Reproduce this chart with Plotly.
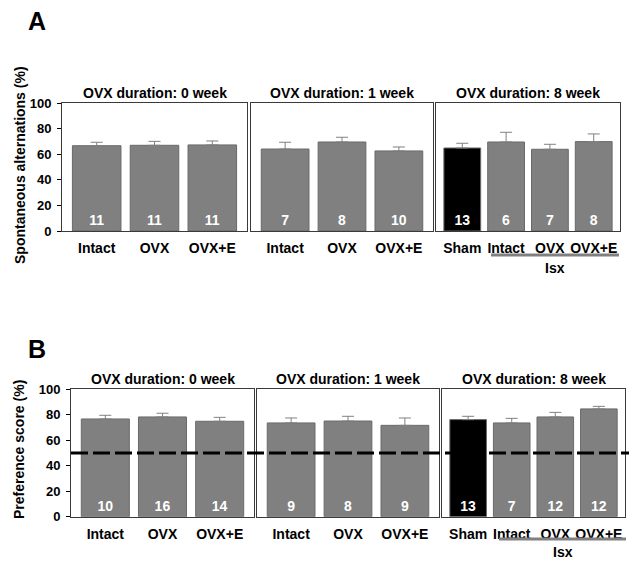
"""
Spontaneous alternation and preference score by OVX duration (panels A and B).
"""

import plotly.graph_objects as go

W, H = 637, 561
PAGE_OFFSET = 8  # the page body margin shifts the figure by this many px

# Data
durations = ["OVX duration: 0 week", "OVX duration: 1 week", "OVX duration: 8 week"]
groups_short = ["Intact", "OVX", "OVX+E"]
groups_8wk = ["Sham", "Intact", "OVX", "OVX+E"]

# Panel A - spontaneous alternations (%)
alt_mean_0wk = [66.8, 67.1, 67.4]
alt_err_0wk = [2.7, 3.1, 3.1]
alt_n_0wk = [11, 11, 11]
alt_mean_1wk = [64.2, 69.7, 62.7]
alt_err_1wk = [5.3, 3.7, 3.1]
alt_n_1wk = [7, 8, 10]
alt_mean_8wk = [65.0, 69.7, 64.0, 70.0]
alt_err_8wk = [3.7, 7.6, 3.9, 6.0]
alt_n_8wk = [13, 6, 7, 8]

# Panel B - preference score (%)
pref_mean_0wk = [76.7, 78.3, 74.9]
pref_err_0wk = [2.9, 2.9, 3.1]
pref_n_0wk = [10, 16, 14]
pref_mean_1wk = [73.6, 75.1, 71.7]
pref_err_1wk = [3.9, 3.7, 5.8]
pref_n_1wk = [9, 8, 9]
pref_mean_8wk = [76.2, 73.6, 78.3, 84.6]
pref_err_8wk = [2.6, 3.6, 3.6, 2.0]
pref_n_8wk = [13, 7, 12, 12]

chance_level = 50
y_ticks = [0, 20, 40, 60, 80, 100]

FONT = "Arial, Liberation Sans, sans-serif"
GRAY = "#808080"


def px_x(p):
    return (p - PAGE_OFFSET) / W


def px_y(p):
    return 1 - (p - PAGE_OFFSET) / H


# Pixel boxes of each subplot: (left, right)
boxes_a = [(62, 247), (251, 433), (436, 620)]
boxes_b = [(71, 254), (257, 439), (442, 625)]
ytop_a, ybot_a = 103.3, 231
ytop_b, ybot_b = 389.3, 516.7

panels = [
    (groups_short, alt_mean_0wk, alt_err_0wk, alt_n_0wk),
    (groups_short, alt_mean_1wk, alt_err_1wk, alt_n_1wk),
    (groups_8wk, alt_mean_8wk, alt_err_8wk, alt_n_8wk),
    (groups_short, pref_mean_0wk, pref_err_0wk, pref_n_0wk),
    (groups_short, pref_mean_1wk, pref_err_1wk, pref_n_1wk),
    (groups_8wk, pref_mean_8wk, pref_err_8wk, pref_n_8wk),
]

fig = go.Figure()
layout = {}

for i, (cats, means, errs, ns) in enumerate(panels):
    k = i + 1
    sfx = "" if k == 1 else str(k)
    colors = ["black" if c == "Sham" else GRAY for c in cats]
    fig.add_trace(go.Bar(
        x=cats, y=means,
        xaxis="x" + sfx, yaxis="y" + sfx,
        width=0.84,
        marker=dict(color=colors, line=dict(color="#6a6a6a", width=1)),
        error_y=dict(type="data", symmetric=False, array=errs,
                     arrayminus=[0] * len(errs),
                     color=GRAY, thickness=1, width=6),
        text=[str(n) for n in ns],
        textposition="inside", insidetextanchor="start", textangle=0,
        textfont=dict(color="white", size=14, family=FONT, weight="bold"),
        showlegend=False,
        hoverinfo="x+y",
    ))

    row_a = i < 3
    left, right = (boxes_a if row_a else boxes_b)[i % 3]
    top, bot = (ytop_a, ybot_a) if row_a else (ytop_b, ybot_b)
    first = i % 3 == 0
    n_cat = len(cats)

    layout["xaxis" + sfx] = dict(
        domain=[px_x(left), px_x(right)],
        anchor="y" + sfx,
        type="category",
        range=[-0.6, n_cat - 1 + 0.6],
        automargin=False,
        showline=True, mirror=True, linecolor="#3a3a3a", linewidth=1,
        ticks="", showgrid=False, zeroline=False,
        ticklabelstandoff=4,
        tickfont=dict(family=FONT, size=14, color="black", weight="bold"),
    )
    layout["yaxis" + sfx] = dict(
        domain=[px_y(bot), px_y(top)],
        anchor="x" + sfx,
        range=[0, 100],
        automargin=False,
        tickvals=y_ticks,
        showticklabels=first,
        ticks="outside" if first else "",
        ticklen=4, tickcolor="black",
        ticklabelstandoff=3,
        showline=True, mirror=True, linecolor="#3a3a3a", linewidth=1,
        showgrid=False, zeroline=False,
        tickfont=dict(family=FONT, size=13, color="black", weight="bold"),
    )

annotations = []
title_font = dict(family=FONT, size=14, color="black", weight="bold")

# Subplot titles
for boxes, ypos in [(boxes_a, 93), (boxes_b, 379)]:
    for (left, right), label in zip(boxes, durations):
        annotations.append(dict(
            text=label, x=px_x((left + right) / 2), y=px_y(ypos),
            xref="paper", yref="paper", showarrow=False, font=title_font,
            xanchor="center", yanchor="middle",
        ))

# Panel letters
for letter, ypos in [("A", 21), ("B", 349)]:
    annotations.append(dict(
        text=letter, x=px_x(37), y=px_y(ypos), xref="paper", yref="paper",
        showarrow=False, xanchor="center", yanchor="middle",
        font=dict(family=FONT, size=25, color="black", weight="bold"),
    ))

# Y-axis titles
for label, xpos, ypos in [("Spontaneous alternations (%)", 20, 165),
                          ("Preference score (%)", 19, 450)]:
    annotations.append(dict(
        text=label, x=px_x(xpos), y=px_y(ypos), xref="paper", yref="paper",
        showarrow=False, textangle=-90, xanchor="center", yanchor="middle",
        font=title_font,
    ))

# Isx bracket labels
shapes = []
for x0, x1, yline, ylabel in [(491, 619, 255, 268), (499, 626, 539, 552)]:
    shapes.append(dict(
        type="line", xref="paper", yref="paper",
        x0=px_x(x0), x1=px_x(x1), y0=px_y(yline), y1=px_y(yline),
        line=dict(color=GRAY, width=3),
    ))
    annotations.append(dict(
        text="Isx", x=px_x((x0 + x1) / 2), y=px_y(ylabel),
        xref="paper", yref="paper", showarrow=False,
        xanchor="center", yanchor="middle", font=title_font,
    ))

# Chance level in panel B
shapes.append(dict(
    type="line", xref="paper", yref="y4",
    x0=px_x(71), x1=px_x(630), y0=chance_level, y1=chance_level,
    line=dict(color="black", width=3, dash="17px,5px"),
    layer="above",
))

fig.update_layout(
    width=W, height=H,
    margin=dict(l=0, r=0, t=0, b=0, autoexpand=False),
    paper_bgcolor="white", plot_bgcolor="white",
    showlegend=False,
    annotations=annotations,
    shapes=shapes,
    **layout,
)

fig.write_html("out.html")
